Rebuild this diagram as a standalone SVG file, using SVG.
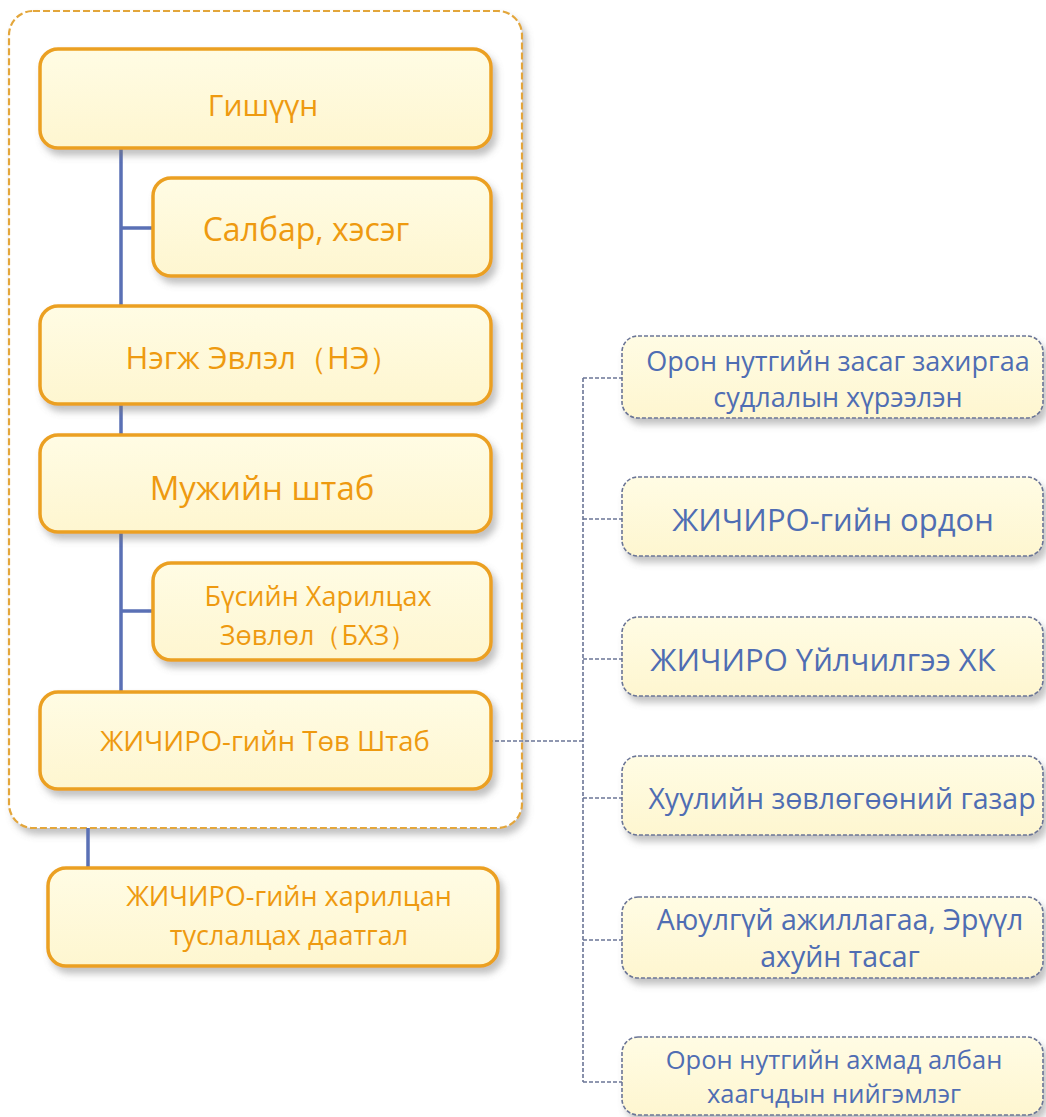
<svg xmlns="http://www.w3.org/2000/svg" width="1046" height="1117" viewBox="0 0 1046 1117">
<defs>
<linearGradient id="cream" x1="0" y1="0" x2="0" y2="1">
<stop offset="0" stop-color="#FFFCE4"/>
<stop offset="1" stop-color="#FEF6D0"/>
</linearGradient>
<filter id="sh" x="-10%" y="-10%" width="125%" height="140%">
<feDropShadow dx="4" dy="6" stdDeviation="3.5" flood-color="#777" flood-opacity="0.45"/>
</filter>
<style>
.obox{fill:url(#cream);stroke:#EBA021;stroke-width:3.5}
.bbox{fill:url(#cream);stroke:#6B7596;stroke-width:1.6;stroke-dasharray:4 2}
.cont{fill:#fff;stroke:#E3A63B;stroke-width:2.2;stroke-dasharray:7 3}
.ot{font-family:"Open Sans","Noto Sans","DejaVu Sans",sans-serif;fill:#EE9A10;text-anchor:middle}
.bt{font-family:"Open Sans","Noto Sans","DejaVu Sans",sans-serif;fill:#4F6DB3;text-anchor:middle}
.solid{stroke:#5A70B5;stroke-width:3.5;fill:none}
.dash{stroke:#6B7596;stroke-width:1.6;stroke-dasharray:4 2;fill:none}
</style>
</defs>
<rect width="1046" height="1117" fill="#fff"/>
<g id="container"><rect class="cont" x="9" y="11" width="513" height="817" rx="24" filter="url(#sh)"/></g>
<g id="connectors">
<path class="solid" d="M121 148 V692 M121 228 H153 M121 611 H153 M88 828 V868"/>
<path class="dash" d="M477 741 H583 M583 378 V1082 M583 378 H622 M583 519 H622 M583 659 H622 M583 798 H622 M583 940 H622 M583 1082 H622"/>
</g>
<g id="n1"><rect class="obox" x="40" y="49" width="451" height="99" rx="18" filter="url(#sh)"/><text class="ot" x="263" y="116" font-size="30">Гишүүн</text></g>
<g id="n2"><rect class="obox" x="153" y="178" width="338" height="98" rx="18" filter="url(#sh)"/><text class="ot" x="306" y="241" font-size="32">Салбар, хэсэг</text></g>
<g id="n3"><rect class="obox" x="40" y="306" width="451" height="98" rx="18" filter="url(#sh)"/><text class="ot" x="263" y="369" font-size="31">Нэгж Эвлэл（НЭ）</text></g>
<g id="n4"><rect class="obox" x="40" y="435" width="451" height="97" rx="18" filter="url(#sh)"/><text class="ot" x="262" y="500" font-size="33">Мужийн штаб</text></g>
<g id="n5"><rect class="obox" x="153" y="563" width="338" height="97" rx="18" filter="url(#sh)"/><text class="ot" x="318" y="606" font-size="27">Бүсийн Харилцах</text><text class="ot" x="318" y="645" font-size="27">Зөвлөл（БХЗ）</text></g>
<g id="n6"><rect class="obox" x="40" y="692" width="451" height="97" rx="18" filter="url(#sh)"/><text class="ot" x="265" y="751" font-size="27.5">ЖИЧИРО-гийн Төв Штаб</text></g>
<g id="n7"><rect class="obox" x="48" y="868" width="450" height="98" rx="18" filter="url(#sh)"/><text class="ot" x="289" y="906" font-size="27">ЖИЧИРО-гийн харилцан</text><text class="ot" x="289" y="945" font-size="27">туслалцах даатгал</text></g>
<g id="r1"><rect class="bbox" x="622" y="336" width="421" height="82" rx="16" filter="url(#sh)"/><text class="bt" x="838" y="371" font-size="27">Орон нутгийн засаг захиргаа</text><text class="bt" x="838" y="407" font-size="27">судлалын хүрээлэн</text></g>
<g id="r2"><rect class="bbox" x="622" y="477" width="421" height="79" rx="16" filter="url(#sh)"/><text class="bt" x="833" y="531" font-size="31">ЖИЧИРО-гийн ордон</text></g>
<g id="r3"><rect class="bbox" x="622" y="617" width="421" height="79" rx="16" filter="url(#sh)"/><text class="bt" x="823" y="671" font-size="31">ЖИЧИРО Үйлчилгээ ХК</text></g>
<g id="r4"><rect class="bbox" x="622" y="756" width="421" height="79" rx="16" filter="url(#sh)"/><text class="bt" x="842" y="809" font-size="28.5">Хуулийн зөвлөгөөний газар</text></g>
<g id="r5"><rect class="bbox" x="622" y="897" width="421" height="81" rx="16" filter="url(#sh)"/><text class="bt" x="840" y="930" font-size="28.5">Аюулгүй ажиллагаа, Эрүүл</text><text class="bt" x="840" y="967" font-size="28.5">ахуйн тасаг</text></g>
<g id="r6"><rect class="bbox" x="622" y="1037" width="421" height="78" rx="16" filter="url(#sh)"/><text class="bt" x="834" y="1069" font-size="25.5">Орон нутгийн ахмад албан</text><text class="bt" x="834" y="1103" font-size="25.5">хаагчдын нийгэмлэг</text></g>
</svg>
